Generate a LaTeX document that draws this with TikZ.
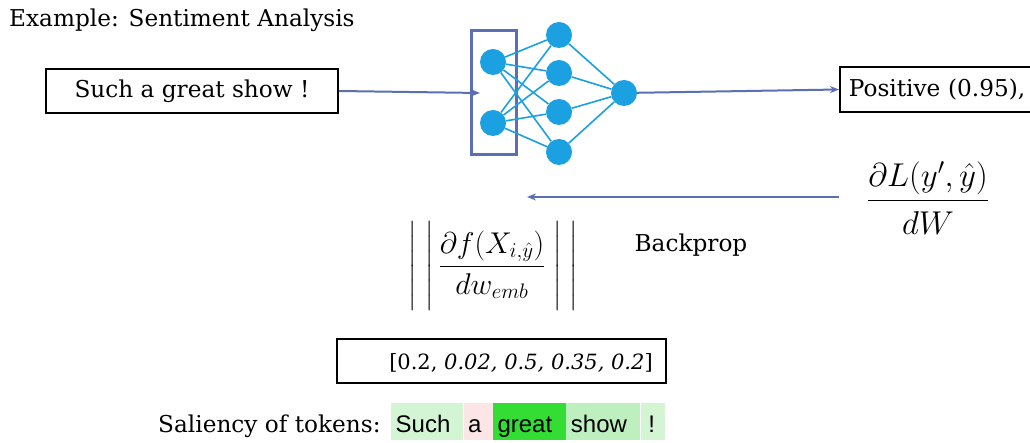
\RequirePackage{fix-cm}
\documentclass[tikz,border=0pt]{standalone}
\usepackage{amsmath}
\usepackage{fontspec}
\setmainfont{DejaVu Serif}
\newfontfamily\tokfont{Liberation Sans}
\usetikzlibrary{arrows.meta}
\definecolor{nn}{RGB}{27,160,226}
\definecolor{arr}{RGB}{92,110,180}
\definecolor{tlight}{RGB}{212,245,212}
\definecolor{tpink}{RGB}{251,229,231}
\definecolor{tgreat}{RGB}{51,221,51}
\definecolor{tshow}{RGB}{190,239,190}
\begin{document}
\begin{tikzpicture}[x=1pt,y=-1pt,
  txt/.style={font=\fontsize{23.2}{27}\selectfont, inner sep=0},
  mtxt/.style={font=\fontsize{33}{38}\selectfont, inner sep=0},
  boxed/.style={draw=black, line width=1.8pt, inner sep=0},
  neuron/.style={circle, fill=nn, minimum size=26pt, inner sep=0},
  nnedge/.style={draw=nn, line width=1.6pt},
  arrowline/.style={draw=arr, line width=2pt, -{Stealth[length=9pt,width=7pt]}},
  tok/.style={font=\tokfont\fontsize{24}{27}\selectfont, inner ysep=0, inner xsep=4.5pt, text width={#1-9pt}, align=left, minimum height=37pt, text height=27pt, text depth=6pt, anchor=west}]
\useasboundingbox (0,0) rectangle (1030,443);
\clip (0,0) rectangle (1030,443);
\fill[white] (0,0) rectangle (1030,443);

\node[txt, anchor=base west] (title) at (9,27) {Example: Sentiment Analysis};

\node[boxed, txt, minimum width=292pt, minimum height=44pt] (inp) at (192,91) {Such a great show !};

% network
\node[draw=arr, line width=2.5pt, minimum width=45pt, minimum height=124pt, inner sep=0] (emb) at (494,92.5) {};
\node[neuron] (i1) at (493,62) {};
\node[neuron] (i2) at (493,123) {};
\node[neuron] (h1) at (559,35) {};
\node[neuron] (h2) at (559,73) {};
\node[neuron] (h3) at (559,112) {};
\node[neuron] (h4) at (559,152) {};
\node[neuron] (o) at (624,93) {};
\foreach \i in {i1,i2} \foreach \h in {h1,h2,h3,h4} \draw[nnedge] (\i) -- (\h);
\foreach \h in {h1,h2,h3,h4} \draw[nnedge] (\h) -- (o);

\coordinate (intip) at (480,93);
\draw[arrowline] (inp.east) -- (intip);

\node[boxed, txt, anchor=west, text width=212pt, align=left, inner xsep=9pt, minimum height=45pt] (out) at (839,89.5) {Positive (0.95),};
\draw[arrowline] (o) -- (out.west);

% backprop
\coordinate (bps) at (839,197);
\coordinate (bpe) at (527,197);
\draw[arrowline] (bps) -- (bpe);
\node[mtxt] (dl) at (928,198) {$\dfrac{\partial L(y',\hat{y})\rule[-8pt]{0pt}{0pt}}{\rule{0pt}{30pt}dW}$};
\node[txt, anchor=base] (bp) at (691,252) {Backprop};
\node[mtxt, font=\fontsize{30}{36}\selectfont] (grad) at (493.5,266) {$\Bigg|\hspace{8pt}\Bigg|\hspace{5pt}\dfrac{\partial f(X_{i,\hat{y}})}{d w_{emb}}\hspace{8pt}\Bigg|\hspace{8pt}\Bigg|$};

% vector
\node[boxed, minimum width=329pt, minimum height=44pt] (vec) at (501.5,361) {};
\node[txt, font=\fontsize{21}{25}\selectfont, anchor=base] (vect) at (521,369) {[0.2, \textit{0.02, 0.5, 0.35, 0.2}]};

% saliency
\node[txt, anchor=base west] (sal) at (158,432) {Saliency of tokens:};
\node[tok=72pt, fill=tlight] (t1) at (391,421.5) {Such};
\node[tok=29pt, fill=tpink] (t2) at (t1.east) {a};
\node[tok=73pt, fill=tgreat] (t3) at (t2.east) {great};
\node[tok=74pt, fill=tshow] (t4) at (t3.east) {show};
\node[tok=24pt, fill=tlight] (t5) at (t4.east) {\hspace{3pt}!};
\end{tikzpicture}
\end{document}
